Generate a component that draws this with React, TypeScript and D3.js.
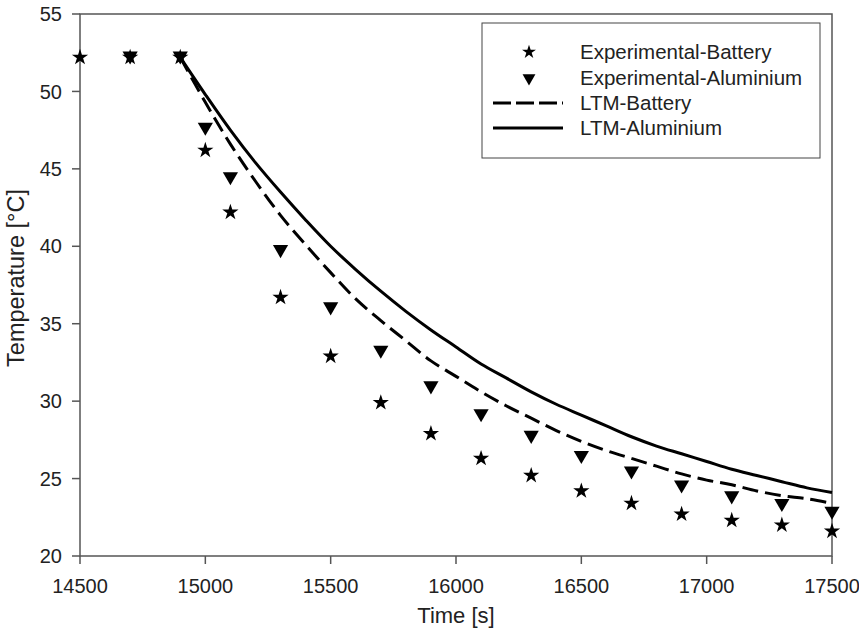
import React from "react";
import * as d3 from "d3";

const expTimes = [14500, 14700, 14900, 15000, 15100, 15300, 15500, 15700, 15900, 16100, 16300, 16500, 16700, 16900, 17100, 17300, 17500];
const expBattery = [52.2, 52.2, 52.2, 46.2, 42.2, 36.7, 32.9, 29.9, 27.9, 26.3, 25.2, 24.2, 23.4, 22.7, 22.3, 22.0, 21.6];
const expAlTimes = [14700, 14900, 15000, 15100, 15300, 15500, 15700, 15900, 16100, 16300, 16500, 16700, 16900, 17100, 17300, 17500];
const expAluminium = [52.3, 52.3, 47.7, 44.5, 39.8, 36.1, 33.3, 31.0, 29.2, 27.8, 26.5, 25.5, 24.6, 23.9, 23.4, 22.9];
const ltmTimes = [14900, 15000, 15100, 15200, 15300, 15400, 15500, 15600, 15700, 15800, 15900, 16000, 16100, 16200, 16300, 16400, 16500, 16600, 16700, 16800, 16900, 17000, 17100, 17200, 17300, 17400, 17500];
const ltmBattery = [52.2, 49.3, 46.6, 44.2, 42.0, 40.1, 38.3, 36.6, 35.2, 33.9, 32.6, 31.6, 30.6, 29.7, 28.9, 28.1, 27.4, 26.8, 26.3, 25.8, 25.3, 24.9, 24.6, 24.2, 23.9, 23.7, 23.4];
const ltmAluminium = [52.2, 49.8, 47.5, 45.4, 43.5, 41.7, 40.0, 38.5, 37.1, 35.8, 34.6, 33.5, 32.4, 31.5, 30.6, 29.8, 29.1, 28.4, 27.7, 27.1, 26.6, 26.1, 25.6, 25.2, 24.8, 24.4, 24.1];
const xTicks = [14500, 15000, 15500, 16000, 16500, 17000, 17500];
const yTicks = [20, 25, 30, 35, 40, 45, 50, 55];
const legendLabels = ["Experimental-Battery", "Experimental-Aluminium", "LTM-Battery", "LTM-Aluminium"];

const W = 859;
const H = 631;
const L = 80, R = 832, T = 14, B = 556;
const FONT = "'Liberation Sans', Arial, Helvetica, sans-serif";

export default function App() {
  const x = d3.scaleLinear().domain([14500, 17500]).range([L, R]);
  const y = d3.scaleLinear().domain([20, 55]).range([B, T]);

  const line = d3
    .line<[number, number]>()
    .x((d) => x(d[0]))
    .y((d) => y(d[1]))
    .curve(d3.curveCatmullRom.alpha(0.5));

  const batPts: [number, number][] = ltmTimes.map((t, i) => [t, ltmBattery[i]]);
  const alPts: [number, number][] = ltmTimes.map((t, i) => [t, ltmAluminium[i]]);

  const star = d3.symbol(d3.symbolStar, 82)() as string;
  const tri = d3.symbol(d3.symbolTriangle, 100)() as string;
  const starL = d3.symbol(d3.symbolStar, 60)() as string;
  const triL = d3.symbol(d3.symbolTriangle, 72)() as string;

  const axisColor = "#555";
  const textColor = "#222";

  const legX = 482, legY = 23, legW = 338, legH = 135;
  const rowY = [52, 78, 103, 128];

  return (
    <svg
      width={W}
      height={H}
      style={{ position: "absolute", left: 0, top: 0, background: "#fff" }}
      fontFamily={FONT}
    >
      <rect x={0} y={0} width={W} height={H} fill="#fff" />
      {/* frame */}
      <rect x={L} y={T} width={R - L} height={B - T} fill="none" stroke={axisColor} strokeWidth={1.5} />
      {/* y ticks */}
      {yTicks.map((v) => (
        <g key={"y" + v}>
          <line x1={L - 8} x2={L} y1={y(v)} y2={y(v)} stroke={axisColor} strokeWidth={1.5} />
          <text x={62} y={y(v)} dy="0.36em" textAnchor="end" fontSize={20} fill={textColor}>
            {v}
          </text>
        </g>
      ))}
      {/* x ticks */}
      {xTicks.map((v) => (
        <g key={"x" + v}>
          <line x1={x(v)} x2={x(v)} y1={B} y2={B + 8} stroke={axisColor} strokeWidth={1.5} />
          <text x={x(v)} y={593} textAnchor="middle" fontSize={20} fill={textColor}>
            {v}
          </text>
        </g>
      ))}
      {/* axis titles */}
      <text x={(L + R) / 2} y={623} textAnchor="middle" fontSize={22} fill={textColor}>
        Time [s]
      </text>
      <text
        transform={`translate(24,278) rotate(-90)`}
        textAnchor="middle"
        fontSize={23.5}
        fill={textColor}
      >
        Temperature [°C]
      </text>

      {/* model lines */}
      <path d={line(batPts) || ""} fill="none" stroke="#000" strokeWidth={3} strokeDasharray="16 7" />
      <path d={line(alPts) || ""} fill="none" stroke="#000" strokeWidth={3} />

      {/* experimental markers */}
      {expAlTimes.map((t, i) => (
        <path key={"a" + i} d={tri} transform={`translate(${x(t)},${y(expAluminium[i])}) rotate(180)`} fill="#000" />
      ))}
      {expTimes.map((t, i) => (
        <path key={"b" + i} d={star} transform={`translate(${x(t)},${y(expBattery[i])})`} fill="#000" />
      ))}

      {/* legend */}
      <rect x={legX} y={legY} width={legW} height={legH} fill="#fff" stroke="#444" strokeWidth={1} />
      <path d={starL} transform={`translate(529,${rowY[0]})`} fill="#000" />
      <path d={triL} transform={`translate(529,${rowY[1]}) rotate(180)`} fill="#000" />
      <line x1={493} x2={563} y1={rowY[2]} y2={rowY[2]} stroke="#000" strokeWidth={3} strokeDasharray="18 5" />
      <line x1={493} x2={563} y1={rowY[3]} y2={rowY[3]} stroke="#000" strokeWidth={3} />
      {legendLabels.map((lab, i) => (
        <text key={lab} x={580} y={rowY[i]} dy="0.36em" fontSize={20.5} fill={textColor}>
          {lab}
        </text>
      ))}
    </svg>
  );
}
